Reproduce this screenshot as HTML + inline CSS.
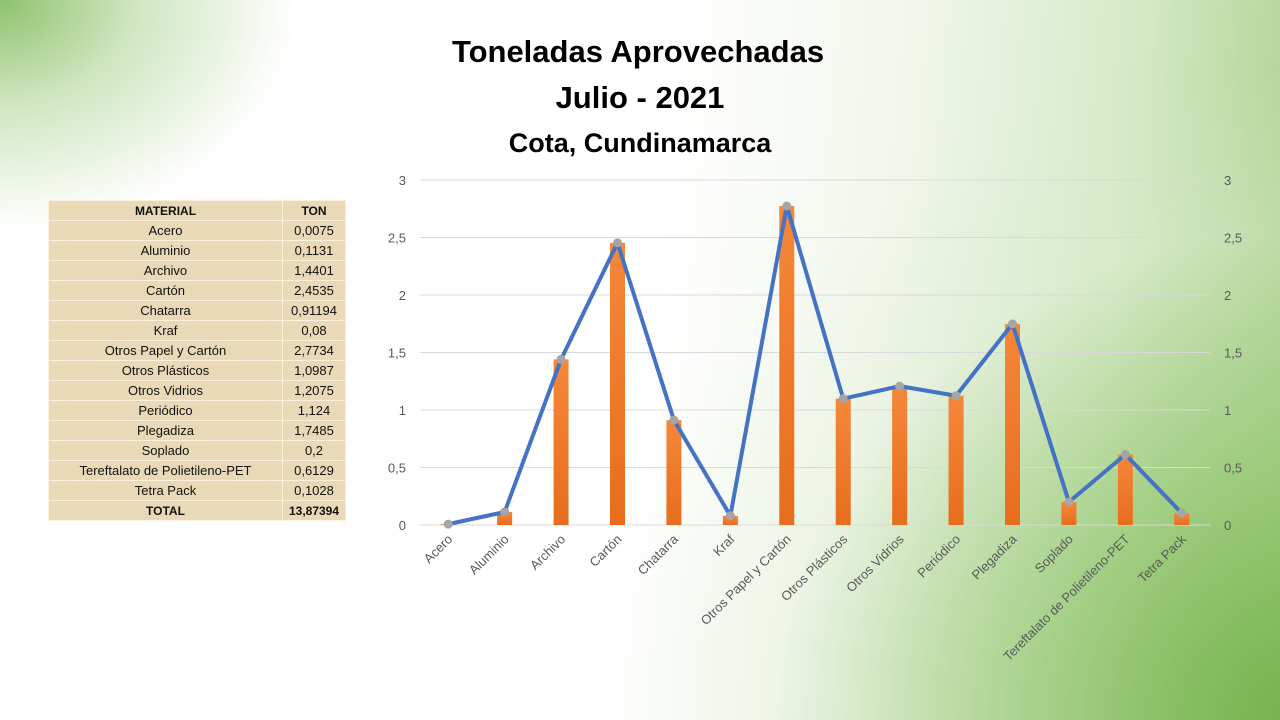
<!DOCTYPE html>
<html><head><meta charset="utf-8"><style>
body{margin:0;width:1280px;height:720px;overflow:hidden;font-family:"Liberation Sans",sans-serif;}
#bg{position:absolute;left:0;top:0;width:1280px;height:720px;
background:
radial-gradient(ellipse 300px 230px at 0px 0px,rgba(130,188,92,0.9) 0%,rgba(160,205,130,0.5) 45%,rgba(255,255,255,0) 100%),
radial-gradient(ellipse 700px 650px at 1300px 720px,rgba(118,178,76,1) 0%,rgba(150,200,115,0.7) 40%,rgba(220,236,208,0.3) 75%,rgba(255,255,255,0) 100%),
linear-gradient(95deg,#ffffff 0%,#ffffff 50%,#f1f7ec 68%,#d5e9c6 85%,#a8d08b 100%);}
.t{position:absolute;left:0;width:1280px;text-align:center;font-weight:bold;color:#000;}
table{position:absolute;left:48px;top:200px;border-collapse:collapse;background:#ead9b6;font-size:13px;}
td{height:19px;border:1px solid #fbf1de;padding:0 4px;text-align:center;color:#111;}
</style></head><body>
<div id="bg"></div>
<div class="t" style="top:34px;font-size:31px;left:-2px">Toneladas Aprovechadas</div>
<div class="t" style="top:80px;font-size:31px">Julio - 2021</div>
<div class="t" style="top:128px;font-size:27px">Cota, Cundinamarca</div>
<table>
<tbody id="tb"></tbody></table>
<svg id="chart" width="1280" height="720" style="position:absolute;left:0;top:0"></svg>
<script>
const categories=["Acero","Aluminio","Archivo","Cartón","Chatarra","Kraf","Otros Papel y Cartón","Otros Plásticos","Otros Vidrios","Periódico","Plegadiza","Soplado","Tereftalato de Polietileno-PET","Tetra Pack"];
const values=[0.0075,0.1131,1.4401,2.4535,0.91194,0.08,2.7734,1.0987,1.2075,1.124,1.7485,0.2,0.6129,0.1028];
const valueLabels=["0,0075","0,1131","1,4401","2,4535","0,91194","0,08","2,7734","1,0987","1,2075","1,124","1,7485","0,2","0,6129","0,1028"];
const totalLabel="13,87394";
const yTicks=[0,0.5,1,1.5,2,2.5,3];
const yTickLabels=["0","0,5","1","1,5","2","2,5","3"];

const tb=document.getElementById('tb');
function row(a,b,bold,name){const tr=document.createElement('tr');


tr.innerHTML='<td style="width:225px;'+(bold?'font-weight:bold;font-size:12px':'')+'">'+a+'</td><td style="width:54px;'+(bold?'font-weight:bold;font-size:12px':'')+'">'+b+'</td>';tb.appendChild(tr);}
row('MATERIAL','TON',true,'table-header');
categories.forEach((c,i)=>row(c,valueLabels[i],false,'table-row'));
row('TOTAL',totalLabel,true,'table-total');

const svg=document.getElementById('chart');const NS='http://www.w3.org/2000/svg';
const L=420,R=1210,B=525,T=180,ymax=3;
const y=v=>B-(v/ymax)*(B-T);
const bw=(R-L)/categories.length;
const x=i=>L+bw*(i+0.5);
function el(t,a){const e=document.createElementNS(NS,t);for(const k in a)e.setAttribute(k,a[k]);svg.appendChild(e);return e;}
const defs=el('defs',{});defs.innerHTML='<linearGradient id="bg2" x1="0" x2="0" y1="0" y2="1"><stop offset="0" stop-color="#f5873a"/><stop offset="1" stop-color="#e86d1e"/></linearGradient>';
yTicks.forEach((t,i)=>{
 const g=el('line',{x1:L,x2:R,y1:y(t),y2:y(t),stroke:'#d9d9d9','stroke-width':1});
 
 
 const a=el('text',{x:406,y:y(t)+5,'text-anchor':'end','font-size':13,fill:'#595959'});a.textContent=yTickLabels[i];
 
 
 const b=el('text',{x:1224,y:y(t)+5,'text-anchor':'start','font-size':13,fill:'#595959'});b.textContent=yTickLabels[i];
 
 
});
values.forEach((v,i)=>{
 const r=el('rect',{x:x(i)-7.5,y:y(v),width:15,height:B-y(v),fill:'url(#bg2)'});
 
 
});
const pl=el('polyline',{points:values.map((v,i)=>x(i)+','+y(v)).join(' '),fill:'none',stroke:'#4472c4','stroke-width':4,'stroke-linejoin':'round'});


values.forEach((v,i)=>{
 const c=el('circle',{cx:x(i),cy:y(v),r:4.5,fill:'#a5a5a5'});
 
 
});
categories.forEach((c,i)=>{
 const t=el('text',{x:x(i)+5,y:540,'text-anchor':'end','font-size':13,fill:'#595959',transform:'rotate(-45 '+(x(i)+5)+' 540)'});
 t.textContent=c;
 
 
});
</script>
</body></html>
